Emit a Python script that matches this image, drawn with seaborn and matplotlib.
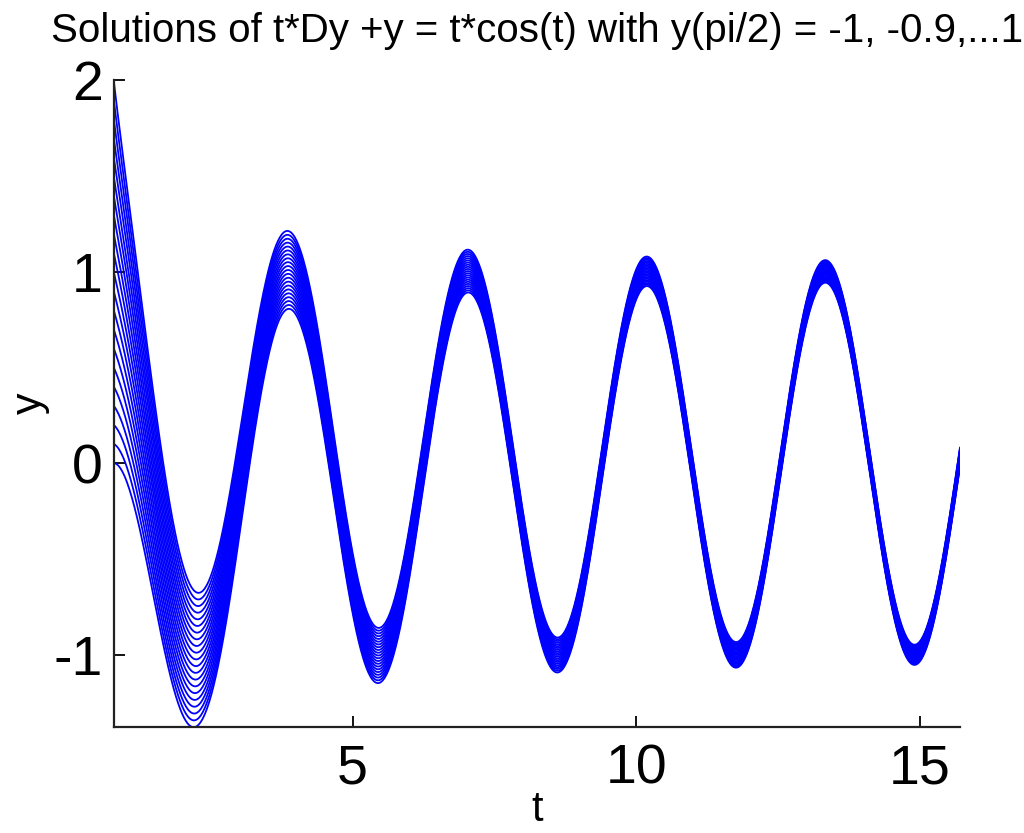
import numpy as np
import pandas as pd
import matplotlib
matplotlib.use("Agg")
import matplotlib.pyplot as plt
import seaborn as sns

# Initial values of the solution family
y0_values = [-1.0, -0.9, -0.8, -0.7, -0.6, -0.5, -0.4, -0.3, -0.2, -0.1, 0.0,
             0.1, 0.2, 0.3, 0.4, 0.5, 0.6, 0.7, 0.8, 0.9, 1.0]
t_start = np.pi / 4
t_end = 5 * np.pi
n_samples = 1500
x_ticks = [5, 10, 15]
y_ticks = [-1, 0, 1, 2]
title = "Solutions of t*Dy +y = t*cos(t) with y(pi/2) = -1, -0.9,...1"

# Closed-form solution family evaluated on the time grid
t = np.linspace(t_start, t_end, n_samples)
s = 2 * t
frames = []
for c in y0_values:
    y = np.sin(s) + np.cos(s) / s + c * (np.pi / 2) / s
    frames.append(pd.DataFrame({"t": t, "y": y, "y0": c}))
df = pd.concat(frames, ignore_index=True)

sns.set_style("ticks")
plt.rcParams["font.family"] = ["Liberation Sans", "DejaVu Sans"]
plt.rcParams["axes.unicode_minus"] = False
plt.rcParams["text.color"] = "black"
plt.rcParams["axes.labelcolor"] = "black"

fig = plt.figure(figsize=(10.24, 8.33), dpi=100)
ax = fig.add_axes([0.111, 0.127, 0.8265, 0.777])

sns.lineplot(data=df, x="t", y="y", units="y0", estimator=None,
             color="#0000ff", linewidth=1.3, ax=ax, legend=False)

ax.margins(0)
ax.set_xticks(x_ticks)
ax.set_yticks(y_ticks)
ax.tick_params(direction="in", length=8, width=1.3, labelsize=40,
               colors="black")
ax.tick_params(axis="x", pad=12)
ax.tick_params(axis="y", pad=8)
for side in ("top", "right"):
    ax.spines[side].set_visible(False)
for side in ("left", "bottom"):
    ax.spines[side].set_linewidth(1.6)
    ax.spines[side].set_color("#222222")

ax.set_xlabel("t", fontsize=30, labelpad=-4)
ax.set_ylabel("y", fontsize=31, labelpad=2)
ax.set_title(title, fontsize=29, pad=27, color="black")

fig.savefig("out.png", dpi=100)
